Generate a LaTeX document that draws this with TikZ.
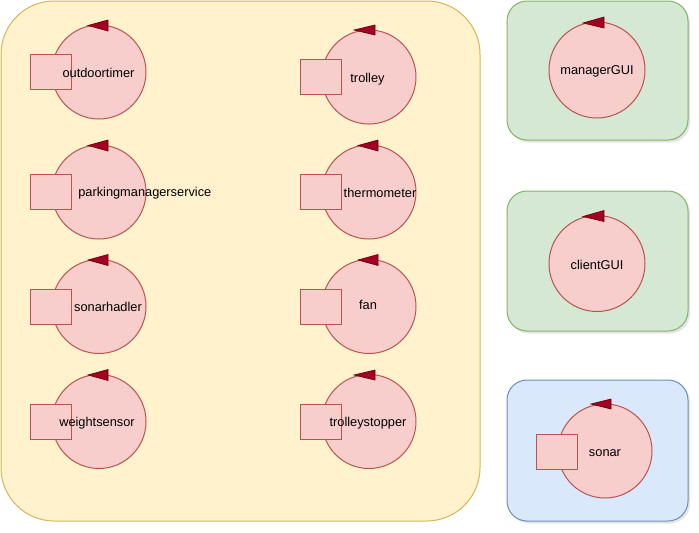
\documentclass[tikz,border=0pt]{standalone}
\usepackage{fontspec}
\setmainfont{Liberation Sans}
\begin{document}
\begin{tikzpicture}[x=0.75pt,y=-0.75pt,
  ctx/.style={line width=0.75pt, rounded corners=15pt},
  yellowctx/.style={ctx, fill=yfill, draw=ystroke, rounded corners=40pt},
  greenctx/.style={ctx, fill=gfill, draw=gstroke},
  bluectx/.style={ctx, fill=bfill, draw=bstroke},
  shadowbox/.style={fill=black, opacity=0.1, rounded corners=15pt, draw=none},
  actorc/.style={circle, draw=rstroke, fill=rfill, line width=0.75pt, minimum size=70.5pt, inner sep=0pt},
  cmdsq/.style={rectangle, draw=rstroke, fill=rfill, line width=0.75pt, minimum width=30.75pt, minimum height=26.25pt, inner sep=0pt},
  tri/.style={fill=tfill, draw=tstroke, line width=0.5pt, line join=miter},
  lbl/.style={font=\fontsize{9.6pt}{11pt}\selectfont, text=black, inner sep=0pt}
]
\definecolor{yfill}{HTML}{FFF2CC}\definecolor{ystroke}{HTML}{D6B656}
\definecolor{gfill}{HTML}{D5E8D4}\definecolor{gstroke}{HTML}{82B366}
\definecolor{bfill}{HTML}{DAE8FC}\definecolor{bstroke}{HTML}{6C8EBF}
\definecolor{rfill}{HTML}{F8CECC}\definecolor{rstroke}{HTML}{B85450}
\definecolor{tfill}{HTML}{A20025}\definecolor{tstroke}{HTML}{6F0000}
\useasboundingbox (0,0) rectangle (699,532);
\fill[white] (0,0) rectangle (699,532);

% context boxes
\draw[yellowctx] (1,1) rectangle (480,521);
\fill[shadowbox] (509,3) rectangle (690,142.5);
\draw[greenctx] (507,1) rectangle (688,140);
\fill[shadowbox] (509,193) rectangle (690,333.5);
\draw[greenctx] (507,191) rectangle (688,331);
\fill[shadowbox] (509,382) rectangle (690,523.5);
\draw[bluectx] (507,380) rectangle (688,521);

% left column
\node[actorc] (c1) at (99,72) {};
\node[cmdsq] (s1) at (50.5,71.5) {};
\draw[tri] (88,25.5) -- (108,20) -- (108,31) -- cycle;
\node[lbl] (t1) at (98.5,73) {outdoortimer};

\node[actorc] (c2) at (99,192) {};
\node[cmdsq] (s2) at (50.5,191.5) {};
\draw[tri] (88,145.5) -- (108,140) -- (108,151) -- cycle;
\node[lbl, anchor=west] (t2) at (78,193) {parkingmanagerservice};

\node[actorc] (c3) at (99,306.5) {};
\node[cmdsq] (s3) at (50.5,306.5) {};
\draw[tri] (88,260) -- (108,254.5) -- (108,265.5) -- cycle;
\node[lbl] (t3) at (108,306.5) {sonarhadler};

\node[actorc] (c4) at (99,421.5) {};
\node[cmdsq] (s4) at (50.5,421.5) {};
\draw[tri] (88,375) -- (108,369.5) -- (108,380.5) -- cycle;
\node[lbl] (t4) at (97,423) {weightsensor};

% right column
\node[actorc] (c5) at (369,77) {};
\node[cmdsq] (s5) at (320.5,77) {};
\draw[tri] (354,30) -- (375,25) -- (375,35) -- cycle;
\node[lbl] (t5) at (367.5,79) {trolley};

\node[actorc] (c6) at (369,192) {};
\node[cmdsq] (s6) at (320.5,191.5) {};
\draw[tri] (358,145.5) -- (378,140) -- (378,151) -- cycle;
\node[lbl] (t6) at (380,193) {thermometer};

\node[actorc] (c7) at (369,306.5) {};
\node[cmdsq] (s7) at (320.5,306.5) {};
\draw[tri] (358,260) -- (378,254.5) -- (378,265.5) -- cycle;
\node[lbl] (t7) at (368,305) {fan};

\node[actorc] (c8) at (369,421.5) {};
\node[cmdsq] (s8) at (320.5,421.5) {};
\draw[tri] (354,375) -- (375,370) -- (375,380) -- cycle;
\node[lbl] (t8) at (368,423) {trolleystopper};

% right boxes
\node[actorc, minimum size=72pt] (c9) at (597,70) {};
\draw[tri] (583,23) -- (604,17) -- (604,28) -- cycle;
\node[lbl] (t9) at (597,71.5) {managerGUI};

\node[actorc, minimum size=72pt] (c10) at (597,263.5) {};
\draw[tri] (583,216.5) -- (604,210.5) -- (604,221.5) -- cycle;
\node[lbl] (t10) at (597,265) {clientGUI};

\node[actorc] (c11) at (605,451) {};
\node[cmdsq] (s11) at (557,451.5) {};
\draw[tri] (591,404) -- (611,399) -- (611,409) -- cycle;
\node[lbl] (t11) at (605,453) {sonar};
\end{tikzpicture}
\end{document}
